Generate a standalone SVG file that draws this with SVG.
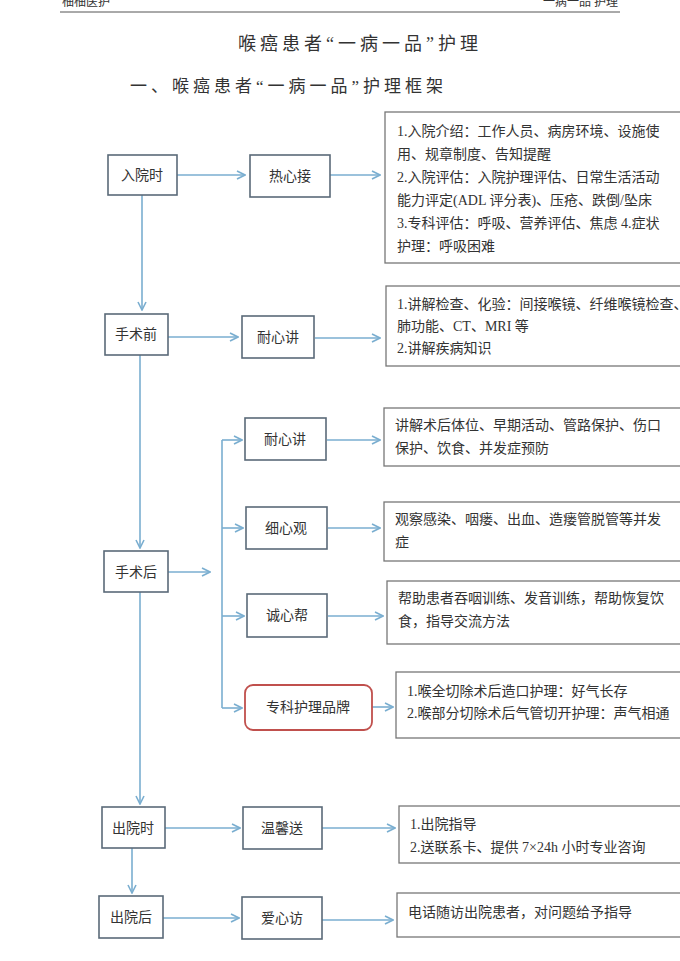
<svg xmlns="http://www.w3.org/2000/svg" width="680" height="961" viewBox="0 0 680 961">
<style>
text{font-family:"Liberation Serif","Noto Sans CJK SC",serif;fill:#333}
.n{fill:#fff;stroke:#5a6a78;stroke-width:1.6}
.b{fill:#fff;stroke:#777;stroke-width:1.3}
.l{font-size:14px;text-anchor:middle}
.t{font-size:14px}
.c{stroke:#7aaed0;stroke-width:1.6;fill:none;marker-end:url(#a)}
.p{stroke:#7aaed0;stroke-width:1.6;fill:none}
</style>
<defs><marker id="a" viewBox="0 0 10 10" refX="9" refY="5" markerWidth="10" markerHeight="10" markerUnits="userSpaceOnUse" orient="auto"><path d="M1 1L9 5L1 9" fill="none" stroke="#7aaed0" stroke-width="1.6"/></marker></defs>
<rect width="680" height="961" fill="#fff"/>
<g id="header">
<line x1="60" y1="12" x2="620" y2="12" stroke="#555"/>
<text x="62" y="6" font-size="12">柚柚医护</text>
<text x="618" y="6" font-size="12" text-anchor="end">一病一品 护理</text>
<text x="360" y="50" font-size="18" text-anchor="middle" letter-spacing="4">喉癌患者“一病一品”护理</text>
<text x="130" y="92" font-size="17" letter-spacing="4">一、喉癌患者“一病一品”护理框架</text>
</g>
<g id="connectors">
<path class="c" d="M177 175H245"/><path class="c" d="M330 175H380"/>
<path class="c" d="M142 195V310"/>
<path class="c" d="M168 337H238"/><path class="c" d="M315 338H380"/>
<path class="c" d="M140 355V548"/>
<path class="c" d="M168 572H210"/>
<path class="p" d="M222 440V708"/>
<path class="c" d="M222 440H242"/><path class="c" d="M222 528H243"/><path class="c" d="M222 616H244"/><path class="c" d="M222 708H242"/>
<path class="c" d="M327 440H380"/><path class="c" d="M328 528H380"/><path class="c" d="M328 616H383"/><path class="c" d="M372 707H393"/>
<path class="c" d="M140 592V804"/>
<path class="c" d="M165 828H240"/><path class="c" d="M322 828H395"/>
<path class="c" d="M132 848V893"/>
<path class="c" d="M163 918H239"/><path class="c" d="M322 920H393"/>
</g>
<g id="n1"><rect class="n" x="108" y="155" width="69" height="40"/><text class="l" x="142" y="180">入院时</text></g>
<g id="n2"><rect class="n" x="250" y="155" width="80" height="42"/><text class="l" x="290" y="181">热心接</text></g>
<g id="b1"><rect class="b" x="385" y="112" width="310" height="151"/>
<text class="t" x="397" y="136">1.入院介绍：工作人员、病房环境、设施使</text>
<text class="t" x="397" y="159">用、规章制度、告知提醒</text>
<text class="t" x="397" y="182">2.入院评估：入院护理评估、日常生活活动</text>
<text class="t" x="397" y="205">能力评定(ADL 评分表)、压疮、跌倒/坠床</text>
<text class="t" x="397" y="228">3.专科评估：呼吸、营养评估、焦虑  4.症状</text>
<text class="t" x="397" y="251">护理：呼吸困难</text></g>
<g id="n3"><rect class="n" x="105" y="314" width="63" height="41"/><text class="l" x="136" y="339">手术前</text></g>
<g id="n4"><rect class="n" x="242" y="316" width="72" height="42"/><text class="l" x="278" y="342">耐心讲</text></g>
<g id="b2"><rect class="b" x="386" y="286" width="310" height="80"/>
<text class="t" x="397" y="309">1.讲解检查、化验：间接喉镜、纤维喉镜检查、</text>
<text class="t" x="397" y="331">肺功能、CT、MRI 等</text>
<text class="t" x="397" y="353">2.讲解疾病知识</text></g>
<g id="n5"><rect class="n" x="104" y="551" width="64" height="41"/><text class="l" x="136" y="577">手术后</text></g>
<g id="n6"><rect class="n" x="245" y="418" width="81" height="42"/><text class="l" x="285" y="444">耐心讲</text></g>
<g id="b3"><rect class="b" x="384" y="408" width="310" height="58"/>
<text class="t" x="395" y="430">讲解术后体位、早期活动、管路保护、伤口</text>
<text class="t" x="395" y="453">保护、饮食、并发症预防</text></g>
<g id="n7"><rect class="n" x="246" y="507" width="81" height="42"/><text class="l" x="286" y="533">细心观</text></g>
<g id="b4"><rect class="b" x="384" y="502" width="310" height="59"/>
<text class="t" x="395" y="524">观察感染、咽瘘、出血、造瘘管脱管等并发</text>
<text class="t" x="395" y="547">症</text></g>
<g id="n8"><rect class="n" x="247" y="594" width="80" height="43"/><text class="l" x="287" y="620">诚心帮</text></g>
<g id="b5"><rect class="b" x="387" y="581" width="310" height="63"/>
<text class="t" x="398" y="603">帮助患者吞咽训练、发音训练，帮助恢复饮</text>
<text class="t" x="398" y="626">食，指导交流方法</text></g>
<g id="n9"><rect x="245" y="685" width="127" height="45" rx="8" fill="#fff" stroke="#c0504d" stroke-width="1.8"/><text class="l" x="308" y="712">专科护理品牌</text></g>
<g id="b6"><rect class="b" x="396" y="672" width="310" height="66"/>
<text class="t" x="407" y="696">1.喉全切除术后造口护理：好气长存</text>
<text class="t" x="407" y="718">2.喉部分切除术后气管切开护理：声气相通</text></g>
<g id="n10"><rect class="n" x="102" y="807" width="63" height="41"/><text class="l" x="133" y="833">出院时</text></g>
<g id="n11"><rect class="n" x="243" y="807" width="79" height="42"/><text class="l" x="282" y="833">温馨送</text></g>
<g id="b7"><rect class="b" x="399" y="806" width="310" height="57"/>
<text class="t" x="410" y="829">1.出院指导</text>
<text class="t" x="410" y="852">2.送联系卡、提供 7×24h 小时专业咨询</text></g>
<g id="n12"><rect class="n" x="99" y="896" width="64" height="42"/><text class="l" x="131" y="922">出院后</text></g>
<g id="n13"><rect class="n" x="242" y="897" width="80" height="42"/><text class="l" x="282" y="923">爱心访</text></g>
<g id="b8"><rect class="b" x="397" y="893" width="310" height="44"/>
<text class="t" x="408" y="917">电话随访出院患者，对问题给予指导</text></g>
</svg>
